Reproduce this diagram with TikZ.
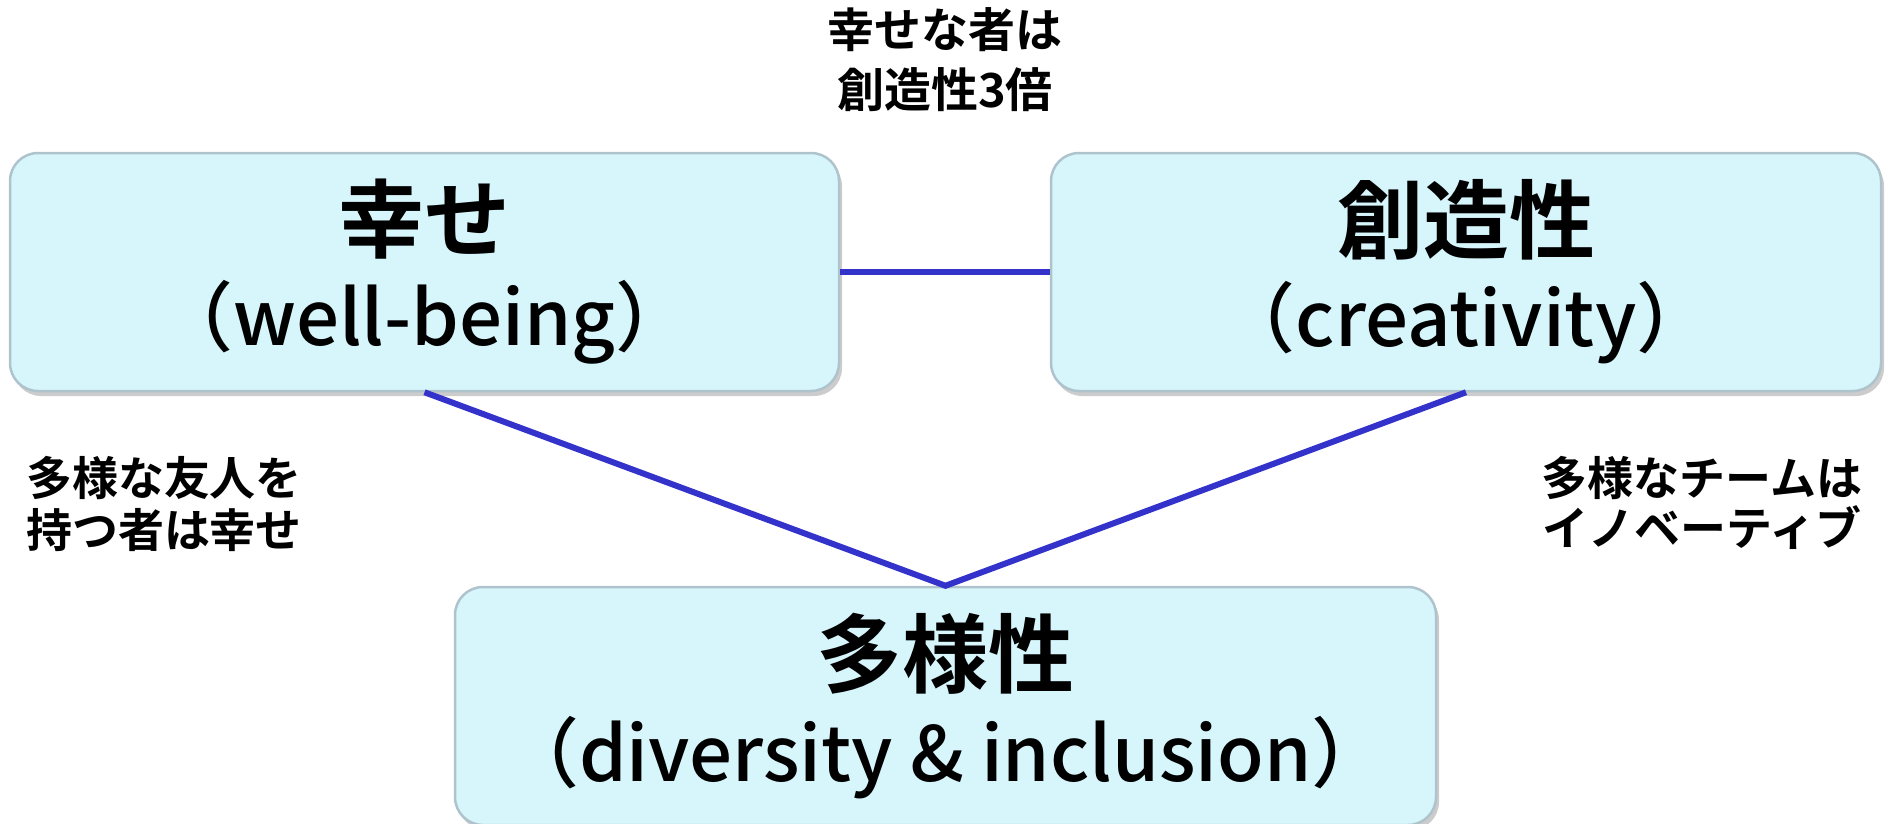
\documentclass[tikz,border=0pt]{standalone}
\usepackage{fontspec}
\setmainfont{Noto Sans CJK JP}[BoldFont={Noto Sans CJK JP Bold}]
\newfontfamily\latinmed{Noto Sans CJK JP Medium}
\usetikzlibrary{shadows}
\definecolor{boxfill}{RGB}{214,246,252}
\definecolor{boxedge}{RGB}{175,195,205}
\definecolor{linkblue}{RGB}{51,51,204}
\tikzset{
  bigbox/.style={rounded corners=28pt, fill=boxfill, draw=boxedge, line width=2.5pt,
    minimum height=238pt, align=center, inner sep=0pt,
    drop shadow={shadow xshift=3pt, shadow yshift=-5pt, fill=black!40}},
  link/.style={draw=linkblue, line width=6pt},
  note/.style={align=center, font=\fontsize{46}{52}\selectfont\bfseries, inner sep=0pt}
}
\newcommand{\boxtxt}[2]{{\fontsize{86}{86}\selectfont\bfseries #1}\\[20pt]{\fontsize{76}{76}\selectfont\latinmed #2}}
\begin{document}
\begin{tikzpicture}[x=1pt,y=-1pt]
\useasboundingbox (0,0) rectangle (1887,823);
\node[bigbox, minimum width=829pt] (A) at (424.5,272) {\boxtxt{幸せ}{（well-being）}};
\node[bigbox, minimum width=830pt] (B) at (1466,272) {\boxtxt{創造性}{（creativity）}};
\node[bigbox, minimum width=981pt] (C) at (945.5,706) {\boxtxt{多様性}{（diversity \& inclusion）}};
\draw[link] (A.east) -- (B.west);
\coordinate (V) at (C.north);
\draw[link] (A.south) -- (V) -- (B.south);
\node[note, font=\fontsize{47}{60}\selectfont\bfseries] (T) at (945,60) {幸せな者は\\創造性3倍};
\node[note] (L) at (164,504) {多様な友人を\\持つ者は幸せ};
\node[note, font=\fontsize{46}{50}\selectfont\bfseries] (R) at (1702,503) {多様なチームは\\イノベーティブ};
\end{tikzpicture}
\end{document}
